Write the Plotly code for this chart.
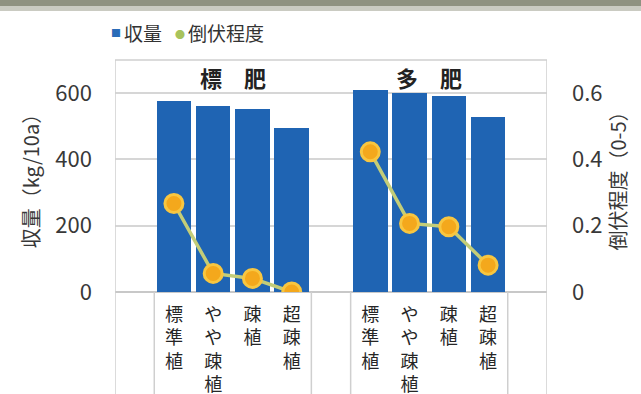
import plotly.graph_objects as go

# ---- data ----
groups = ["標　肥", "多　肥"]
plant_types = ["標準植", "やや疎植", "疎植", "超疎植"]
yield_hyo = [577, 561, 552, 495]      # 収量 標肥 (kg/10a)
yield_ta = [611, 599, 591, 529]       # 収量 多肥
lodging_hyo = [0.267, 0.056, 0.041, 0.0]   # 倒伏程度 標肥
lodging_ta = [0.423, 0.207, 0.197, 0.081]  # 倒伏程度 多肥
y_ticks = [0, 200, 400, 600]
y2_ticks = [0, 0.2, 0.4, 0.6]
y2_ticktext = ["0", "0.2", "0.4", "0.6"]

FONT = "Noto Sans CJK JP"
TXT = "#383838"
BAR = "#1f64b3"
LINE = "#c3cd78"
MK = "#f4a81c"
MKL = "#f8c640"
GRID = "#d6d6d6"

n = len(plant_types)
xs_all, yv, lv, ticktext = [], [], [], []
for g, (yy, ll) in enumerate([(yield_hyo, lodging_hyo), (yield_ta, lodging_ta)]):
    for i in range(n):
        xs_all.append(1 + g * (n + 1) + i)
        yv.append(yy[i])
        lv.append(ll[i])
        ticktext.append("<br>".join(list(plant_types[i])))

line_x, line_y = [], []
for g in range(2):
    line_x += xs_all[g * n:(g + 1) * n] + [None]
    line_y += lv[g * n:(g + 1) * n] + [None]

fig = go.Figure()
fig.add_trace(go.Bar(x=xs_all, y=yv, width=0.88, marker=dict(color=BAR, line=dict(width=0)),
                     name="収量", showlegend=False))
fig.add_trace(go.Scatter(x=line_x, y=line_y, yaxis="y2", mode="lines+markers",
                         line=dict(color=LINE, width=3.5),
                         marker=dict(size=18, color=MK, line=dict(color=MKL, width=3)),
                         connectgaps=False, name="倒伏程度", showlegend=False))

W, H = 641, 394
L, R, T, B = 115, 94, 60, 102
ph = H - T - B
pw = W - L - R

def py(p):  # pixel y -> paper y
    return (H - B - p) / ph

def px(p):
    return (p - L) / pw

shapes = []
# vertical separators below zero line
for xv in [0.5, n + 0.5, n + 1.5, 2 * n + 1.5]:
    shapes.append(dict(type="line", xref="x", yref="paper", x0=xv, x1=xv, y0=0, y1=py(H),
                       line=dict(color="#cfcfcf", width=1.5)))
# outer box
for xv in [-0.5, 2 * n + 2.5]:
    shapes.append(dict(type="line", xref="x", yref="paper", x0=xv, x1=xv, y0=1, y1=py(H),
                       line=dict(color="#cfcfcf", width=1.5)))
shapes.append(dict(type="line", xref="paper", yref="paper", x0=0, x1=1, y0=1, y1=1,
                   line=dict(color="#cfcfcf", width=1.5)))
# top blurry strip of the photo
shapes.append(dict(type="rect", xref="paper", yref="paper", x0=px(0), x1=px(W), y0=py(0), y1=py(6),
                   fillcolor="#8f9281", line=dict(width=0), layer="below"))
shapes.append(dict(type="rect", xref="paper", yref="paper", x0=px(0), x1=px(W), y0=py(6), y1=py(11),
                   fillcolor="#cacbc2", line=dict(width=0), layer="below"))

annotations = []
for g, name in enumerate(groups):
    annotations.append(dict(x=1 + g * (n + 1) + (n - 1) / 2, y=py(77), xref="x", yref="paper",
                            xanchor="center", yanchor="middle",
                            text="<b>" + name + "</b>", showarrow=False,
                            font=dict(family=FONT, size=22, color="#222")))
# legend as text
annotations += [
    dict(x=px(116), y=py(33), xref="paper", yref="paper", text="■", showarrow=False,
         xanchor="center", yanchor="middle", font=dict(family=FONT, size=10, color="#2a6cb8")),
    dict(x=px(122), y=py(32), xref="paper", yref="paper", text="収量", showarrow=False,
         xanchor="left", yanchor="middle", font=dict(family=FONT, size=19, color="#333")),
    dict(x=px(180), y=py(34), xref="paper", yref="paper", text="●", showarrow=False,
         xanchor="center", yanchor="middle", font=dict(family=FONT, size=10, color="#a8c35c")),
    dict(x=px(186), y=py(32), xref="paper", yref="paper", text="倒伏程度", showarrow=False,
         xanchor="left", yanchor="middle", font=dict(family=FONT, size=19, color="#333")),
]

fig.update_layout(
    width=W, height=H,
    margin=dict(l=L, r=R, t=T, b=B, pad=0, autoexpand=False),
    paper_bgcolor="white", plot_bgcolor="white",
    font=dict(family=FONT, color=TXT),
    bargap=0,
    xaxis=dict(range=[-0.5, 2 * n + 2.5], tickvals=xs_all, ticktext=ticktext, automargin=False,
               tickfont=dict(size=18, color="#262626"), showgrid=False, zeroline=False,
               showline=False, ticks="", ticklabelstandoff=10, fixedrange=True),
    yaxis=dict(range=[0, 700], tickvals=y_ticks, tickfont=dict(size=22, color=TXT), automargin=False,
               showgrid=True, gridcolor=GRID, gridwidth=1.5, zeroline=True, zerolinecolor="#c8c8c8",
               zerolinewidth=2, showline=False, ticks="", ticklabelstandoff=22,
               title=dict(text="収量（kg/10a）", font=dict(size=20, color=TXT), standoff=10)),
    yaxis2=dict(range=[0, 0.7], overlaying="y", side="right", tickvals=y2_ticks, ticktext=y2_ticktext,
                tickfont=dict(size=22, color=TXT), showgrid=False, zeroline=False, showline=False,
                ticks="", ticklabelstandoff=24, automargin=False,
                title=dict(text="倒伏程度（0-5）", font=dict(size=20, color=TXT), standoff=8)),
    shapes=shapes, annotations=annotations,
)

fig.write_html("out.html")
